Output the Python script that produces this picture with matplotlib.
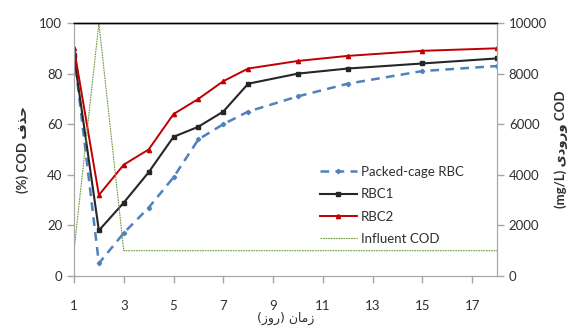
import matplotlib
matplotlib.use("Agg")
import matplotlib.pyplot as plt

plt.rcParams['font.family'] = ['Lato', 'DejaVu Sans']

days = [1, 2, 3, 4, 5, 6, 7, 8, 10, 12, 15, 18]
packed_cage = [88, 5, 17, 27, 39, 54, 60, 65, 71, 76, 81, 83]
rbc1 = [87, 18, 29, 41, 55, 59, 65, 76, 80, 82, 84, 86]
rbc2 = [90, 32, 44, 50, 64, 70, 77, 82, 85, 87, 89, 90]
influent = [1000, 10000, 1000, 1000, 1000, 1000, 1000, 1000, 1000, 1000, 1000, 1000]

xticks = [1, 3, 5, 7, 9, 11, 13, 15, 17]
left_ticks = [0, 20, 40, 60, 80, 100]
right_ticks = [0, 2000, 4000, 6000, 8000, 10000]

# Arabic/Persian labels written in visual (shaped, left-to-right) order
ylabel_left = "(%) COD \uFED1\uFEAC\uFEA3"
ylabel_right = "(mg/L) \uFBFC\uFEA9\uFEED\uFEAD\uFEED COD"
xlabel = "(\uFEAF\uFEED\uFEAD) \uFEE5\uFE8E\uFEE3\uFEAF"

grey = '#A6A6A6'
txt = '#303030'

fig = plt.figure(figsize=(5.71, 3.29), dpi=100)
ax = fig.add_axes([74/571, 1-276/329, (497-74)/571, (276-23)/329])
ax2 = ax.twinx()

l1, = ax.plot(days, packed_cage, color='#4F81BD', lw=1.8, dashes=(3.5, 2.5),
              marker='D', ms=2.2, label='Packed-cage RBC')
l2, = ax.plot(days, rbc1, color='#262626', lw=1.5, marker='s', ms=3.5, label='RBC1')
l3, = ax.plot(days, rbc2, color='#C00000', lw=1.4, marker='^', ms=3, label='RBC2')
l4, = ax2.plot(days, influent, color='#6A9A3A', lw=0.8, dashes=(1.5, 0.8),
               label='Influent COD')

ax.set_xlim(1, 18)
ax.set_ylim(0, 100)
ax2.set_ylim(0, 10000)
ax.set_xticks(xticks)
ax.set_yticks(left_ticks)
ax2.set_yticks(right_ticks)

for a in (ax, ax2):
    for side in ('left', 'right', 'bottom'):
        a.spines[side].set_color(grey)
    a.spines['top'].set_color('black')
    a.spines['top'].set_linewidth(1.0)
    a.tick_params(colors=grey, labelcolor=txt, labelsize=9.5, length=5, width=1)

ax.tick_params(axis='x', pad=12)
ax.set_xlabel(xlabel, fontsize=9, color=txt, labelpad=0, family=['DejaVu Sans'])
ax.set_ylabel(ylabel_left, fontsize=9.5, color=txt, fontweight='bold', labelpad=7)
ax2.set_ylabel(ylabel_right, fontsize=9.5, color=txt, fontweight='bold', labelpad=5)

leg = ax2.legend(handles=[l1, l2, l3, l4], loc='upper left',
                 bbox_to_anchor=(320/571, 1-166/329), bbox_transform=fig.transFigure,
                 frameon=False, fontsize=9.5, handlelength=2.8, handletextpad=0.3,
                 labelspacing=0.78, borderaxespad=0, borderpad=0)
for t in leg.get_texts():
    t.set_color(txt)

fig.savefig('out.png', dpi=100)
